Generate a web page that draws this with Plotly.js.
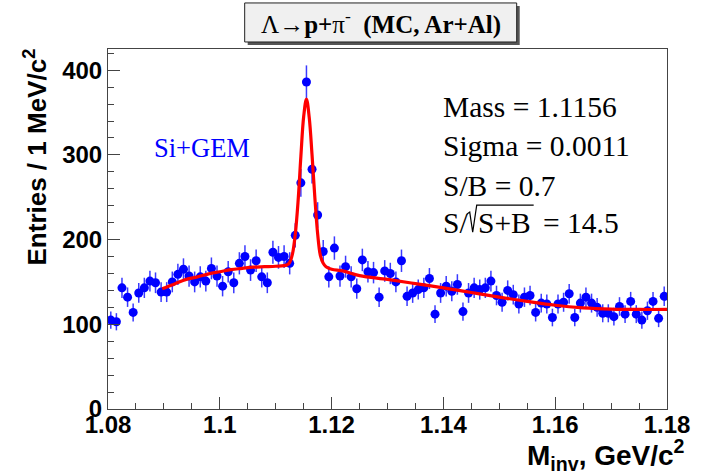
<!DOCTYPE html>
<html>
<head>
<meta charset="utf-8">
<script src="https://cdn.plot.ly/plotly-3.0.1.min.js"></script>
<style>
  html, body { margin: 0; padding: 0; background: #ffffff; }
  #chart { width: 708px; height: 475px; }
</style>
</head>
<body>
<div id="chart"></div>
<script>
// Histogram binning (GeV/c^2)
const binLow = 1.080;
const binWidth = 0.001;

// Entries per 1 MeV/c^2 bin
const counts = [
  105, 103, 143, 132, 114, 137, 143, 151, 149, 138,
  138, 150, 159, 165, 157, 150, 156, 151, 166, 157,
  145, 162, 149, 172, 180, 164, 175, 156, 149, 185,
  179, 180, 172, 205, 267, 386, 283, 229, 186, 156,
  190, 157, 168, 156, 142, 176, 162, 161, 132, 163,
  160, 150, 175, 133, 137, 141, 143, 154, 112, 137,
  145, 139, 147, 115, 137, 143, 141, 143, 151, 134,
  126, 140, 135, 124, 132, 134, 114, 125, 124, 108,
  124, 126, 136, 108, 125, 132, 125, 120, 113, 113,
  109, 121, 112, 127, 112, 105, 116, 127, 107, 133
];

// Fit curve (signal + background)
const fitMass = [1.0897, 1.092, 1.094, 1.096, 1.098, 1.100, 1.102, 1.104, 1.106, 1.108,
  1.110, 1.112, 1.1125, 1.113, 1.1135, 1.114, 1.1145, 1.115, 1.1155, 1.116,
  1.1165, 1.117, 1.1175, 1.118, 1.1185, 1.119, 1.120, 1.122, 1.125, 1.130,
  1.135, 1.140, 1.145, 1.150, 1.155, 1.160, 1.165, 1.170, 1.175, 1.180];
const fitValue = [142, 148, 153, 156, 159.5, 162, 164.5, 166, 167.5, 168,
  168.5, 170, 173, 183, 206, 245, 298, 345, 366, 344,
  300, 250, 207, 181, 172, 168, 165, 163, 157.5, 153,
  148, 143, 137.5, 132, 127, 122.5, 119.5, 118, 117.5, 117.5];

// Texts
const titleText = "Λ→<b>p+</b>π<sup>-</sup>  <b>(MC, Ar+Al)</b>";
const sampleLabel = "Si+GEM";
const statLines = ["Mass = 1.1156", "Sigma = 0.0011", "S/B = 0.7"];
const signifParts = ["S/", "S+B", "= 14.5"];
const xTitle = "M<sub>inv</sub>, GeV/c<sup>2</sup>";
const yTitle = "Entries / 1 MeV/c<sup>2</sup>";

const binCenters = counts.map((_, i) => binLow + binWidth * (i + 0.5));
const errors = counts.map(v => Math.sqrt(v));

const dataTrace = {
  x: binCenters, y: counts, type: 'scatter', mode: 'markers',
  marker: { color: '#0000ff', size: 9 },
  error_y: { type: 'data', array: errors, visible: true, color: '#3a3aff', thickness: 1.5, width: 0 },
  hoverinfo: 'skip', showlegend: false
};
const fitTrace = {
  x: fitMass, y: fitValue, type: 'scatter', mode: 'lines',
  line: { color: '#ff0000', width: 3.2, shape: 'spline', smoothing: 1 },
  hoverinfo: 'skip', showlegend: false
};

const axisCommon = {
  showgrid: false, zeroline: false, showline: true, linecolor: '#444', linewidth: 1,
  mirror: true, ticks: 'inside', ticklen: 12, tickwidth: 1, tickcolor: '#444',
  tickfont: { family: 'Liberation Sans, Arial, sans-serif', size: 24, weight: 'bold', color: '#000' }
};

const serif = 'Liberation Serif, Times New Roman, serif';
const statFont = { family: serif, size: 29.5, color: '#000' };
const statYs = [0.8388, 0.7317, 0.6191];
const statAnnotations = statLines.map((t, i) => ({
  text: t, xref: 'paper', yref: 'paper', x: 0.5952, y: statYs[i],
  xanchor: 'left', yanchor: 'middle', showarrow: false, font: statFont
}));
const signifXs = [0.5952, 0.6578, 0.7741];
const signifAnnotations = signifParts.map((t, i) => ({
  text: t, xref: 'paper', yref: 'paper', x: signifXs[i], y: 0.5163,
  xanchor: 'left', yanchor: 'middle', showarrow: false, font: statFont
}));

const layout = {
  width: 708, height: 475,
  margin: { l: 108, r: 41, t: 49, b: 66 },
  paper_bgcolor: '#ffffff', plot_bgcolor: '#ffffff',
  showlegend: false,
  xaxis: Object.assign({}, axisCommon, {
    range: [1.08, 1.18], tick0: 1.08, dtick: 0.02, ticklabelstandoff: -6,
    minor: { ticks: 'inside', ticklen: 6, dtick: 0.005, tick0: 1.08, tickcolor: '#444', showgrid: false }
  }),
  yaxis: Object.assign({}, axisCommon, {
    range: [0, 425], tick0: 0, dtick: 100,
    minor: { ticks: 'inside', ticklen: 6, dtick: 20, tick0: 0, tickcolor: '#444', showgrid: false }
  }),
  shapes: [
    { type: 'rect', xref: 'paper', yref: 'paper', x0: 0.2499, x1: 0.7365, y0: 1.0112, y1: 1.1196,
      fillcolor: '#555555', line: { width: 0 }, layer: 'above' },
    { type: 'rect', xref: 'paper', yref: 'paper', x0: 0.2445, x1: 0.7311, y0: 1.0195, y1: 1.1279,
      fillcolor: '#f0f0f0', line: { color: '#222', width: 1 }, layer: 'above' },
    { type: 'path', xref: 'paper', yref: 'paper',
      path: 'M 0.6417 0.5413 L 0.6471 0.5469 L 0.6524 0.4913 L 0.6596 0.5663 L 0.7615 0.5663',
      line: { color: '#000', width: 1.2 }, layer: 'above' }
  ],
  annotations: [
    { text: titleText, xref: 'paper', yref: 'paper', x: 0.4878, y: 1.0737,
      xanchor: 'center', yanchor: 'middle', showarrow: false,
      font: { family: serif, size: 25, color: '#000' } },
    { text: sampleLabel, xref: 'paper', yref: 'paper', x: 0.1676, y: 0.7248,
      xanchor: 'center', yanchor: 'middle', showarrow: false,
      font: { family: serif, size: 26.5, color: '#0000ff' } },
    ...statAnnotations,
    ...signifAnnotations,
    { text: xTitle, xref: 'paper', yref: 'paper', x: 1, y: 0, xanchor: 'right', yanchor: 'top',
      xshift: 20, yshift: -24, showarrow: false,
      font: { family: 'Liberation Sans, Arial, sans-serif', size: 28, weight: 'bold', color: '#000' } },
    { text: yTitle, xref: 'paper', yref: 'paper', x: 0, y: 1, xanchor: 'center', yanchor: 'top',
      xshift: -72, yshift: 2, textangle: -90, showarrow: false,
      font: { family: 'Liberation Sans, Arial, sans-serif', size: 26, weight: 'bold', color: '#000' } }
  ]
};

Plotly.newPlot('chart', [dataTrace, fitTrace], layout, { staticPlot: true, displayModeBar: false });
</script>
</body>
</html>
